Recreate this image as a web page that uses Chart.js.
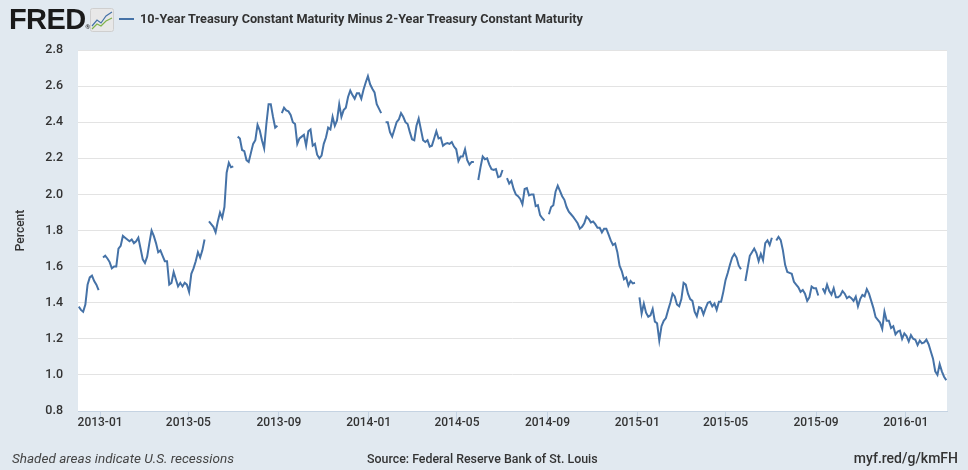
<!DOCTYPE html>
<html><head><meta charset="utf-8">
<script src="https://cdn.jsdelivr.net/npm/chart.js@4.4.0/dist/chart.umd.min.js"></script>
<style>
html,body{margin:0;padding:0;background:#e1e9f0;}
#wrap{position:relative;width:968px;height:470px;overflow:hidden;background:#e1e9f0;}
canvas{position:absolute;left:0;top:0;}
.t{position:absolute;white-space:nowrap;color:#333;}
#logo{left:9px;top:3px;font:bold 29px "Liberation Sans",Arial,sans-serif;color:#1a1a1a;letter-spacing:-0.6px;}
#logo sup{font-size:6px;letter-spacing:0;vertical-align:0;}
#icon{position:absolute;left:90px;top:8px;}
#legline{position:absolute;left:119px;top:18px;width:15px;height:2px;background:#4572a7;}
#legtxt{left:140px;top:11px;font:bold 12.7px Roboto,sans-serif;color:#333;}
#foot1{left:12px;top:450px;font:italic 13.5px Roboto,sans-serif;color:#444;}
#foot2{left:367px;top:451px;font:500 12.4px Roboto,sans-serif;color:#333;}
#foot3{right:10px;top:450px;font:500 14px Roboto,sans-serif;color:#333;}
</style></head>
<body>
<div id="wrap">
<canvas id="c" width="968" height="470"></canvas>
<div class="t" id="logo">FRED<sup>®</sup></div>
<svg id="icon" width="24" height="24" viewBox="0 0 24 24">
 <rect x="0.5" y="0.5" width="23" height="23" rx="2" fill="#e8e8e8" stroke="#cfcfcf"/>
 <polyline points="2,18 7,12 11,15 16,8 22,4" fill="none" stroke="#4572a7" stroke-width="1.2"/>
 <polyline points="2,21 7,16 11,18 16,13 22,10" fill="none" stroke="#7fb24a" stroke-width="1.2"/>
</svg>
<div id="legline"></div>
<div class="t" id="legtxt">10-Year Treasury Constant Maturity Minus 2-Year Treasury Constant Maturity</div>
<div class="t" id="foot1">Shaded areas indicate U.S. recessions</div>
<div class="t" id="foot2">Source: Federal Reserve Bank of St. Louis</div>
<div class="t" id="foot3">myf.red/g/kmFH</div>
</div>
<script>
// ---- data ----
const seriesName = '10-Year Treasury Constant Maturity Minus 2-Year Treasury Constant Maturity';
const startDate = '2012-12-03';   // date of first value
const stepDays = 3;               // spacing between values (days)
const spread = [
 1.378,1.36,1.35,1.39,1.50,1.54,1.55,1.52,1.50,1.47,
 null,1.65,1.66,1.645,1.625,1.59,1.60,1.60,1.70,1.715,
 1.77,1.76,1.75,1.74,1.75,1.73,1.74,1.76,1.70,1.64,
 1.62,1.655,1.73,1.80,1.77,1.73,1.68,1.69,1.66,1.63,
 1.63,1.50,1.51,1.57,1.53,1.49,1.51,1.49,1.51,1.50,
 1.46,1.56,1.59,1.63,1.68,1.65,1.69,1.75,null,1.85,
 1.835,1.82,1.79,1.85,1.90,1.87,1.93,2.12,2.175,2.15,
 2.155,null,2.32,2.31,2.246,2.24,2.19,2.18,2.23,2.28,
 2.30,2.385,2.355,2.30,2.255,2.39,2.50,2.50,2.43,2.37,
 2.38,null,2.45,2.48,2.465,2.46,2.44,2.40,2.39,2.28,
 2.31,2.32,2.33,2.27,2.35,2.36,2.27,2.28,2.22,2.20,
 2.215,2.28,2.315,2.37,2.36,2.43,2.38,2.41,2.50,2.43,
 2.467,2.48,2.54,2.575,2.55,2.53,2.56,2.56,2.53,2.58,
 2.62,2.655,2.61,2.585,2.565,2.50,2.475,2.45,null,2.40,
 2.40,2.345,2.32,2.36,2.40,2.415,2.45,2.43,2.40,2.39,
 2.345,2.305,2.30,2.38,2.42,2.36,2.30,2.29,2.30,2.265,
 2.27,2.31,2.35,2.31,2.315,2.27,2.28,2.285,2.28,2.29,
 2.265,2.25,2.185,2.21,2.21,2.25,2.19,2.165,2.18,2.18,
 null,2.08,2.15,2.21,2.195,2.20,2.165,2.14,2.135,2.14,
 2.095,2.10,2.135,null,2.09,2.06,2.075,2.03,2.00,1.99,
 1.975,1.945,2.03,2.035,1.995,2.00,2.00,1.935,1.94,1.885,
 1.868,1.855,null,1.89,1.93,1.94,2.015,2.048,2.02,1.99,
 1.97,1.93,1.904,1.89,1.875,1.858,1.84,1.81,1.82,1.84,
 1.877,1.865,1.845,1.85,1.835,1.815,1.815,1.79,1.81,1.81,
 1.778,1.745,1.72,1.728,1.68,1.605,1.575,1.53,1.54,1.495,
 1.52,1.507,1.51,null,1.43,1.34,1.395,1.345,1.322,1.33,
 1.365,1.295,1.286,1.19,1.27,1.30,1.315,1.36,1.40,1.45,
 1.435,1.39,1.38,1.42,1.51,1.50,1.45,1.42,1.41,1.35,
 1.325,1.375,1.37,1.335,1.37,1.40,1.405,1.38,1.395,1.36,
 1.405,1.405,1.46,1.525,1.565,1.61,1.65,1.67,1.65,1.605,
 1.585,null,1.52,1.59,1.66,1.68,1.70,1.675,1.63,1.67,
 1.635,1.73,1.745,1.72,1.76,null,1.745,1.765,1.747,1.69,
 1.61,1.57,1.565,1.56,1.516,1.50,1.485,1.46,1.47,1.45,
 1.41,1.43,1.49,1.48,1.48,1.44,null,1.48,1.455,1.50,
 1.465,1.445,1.48,1.43,1.43,1.44,1.465,1.45,1.425,1.434,
 1.425,1.41,1.434,1.38,1.42,1.443,1.435,1.475,1.45,1.41,
 1.37,1.32,1.305,1.29,1.255,1.35,1.30,1.30,1.26,1.27,
 1.225,1.24,1.245,1.20,1.23,1.215,1.185,1.22,1.20,1.195,
 1.165,1.19,1.175,1.18,1.195,1.17,1.13,1.09,1.02,1.00,
 1.06,1.02,0.99,0.97
];
const xTickLabels = ['2013-01','2013-05','2013-09','2014-01','2014-05','2014-09','2015-01','2015-05','2015-09','2016-01'];
const yTickValues = [0.8,1.0,1.2,1.4,1.6,1.8,2.0,2.2,2.4,2.6,2.8];
const xRange = ['2012-12-02','2016-02-26'];

// ---- helpers ----
const DAY = 86400000;
const base = Date.UTC(2013,0,1);
function dayNum(s){const p=s.split('-').map(Number);return (Date.UTC(p[0],p[1]-1,p[2]||1)-base)/DAY;}
const d0 = dayNum(startDate);
const points = spread.map((v,i)=>({x:d0+i*stepDays,y:v}));
const xTickVals = xTickLabels.map(dayNum);

const bgPlugin = {
  id:'plotbg',
  beforeDraw(chart){
    const {ctx,chartArea:a}=chart;
    ctx.save();ctx.fillStyle='#ffffff';ctx.fillRect(a.left,a.top,a.right-a.left,a.bottom-a.top);ctx.restore();
  }
};

new Chart(document.getElementById('c'),{
  type:'line',
  data:{datasets:[{label:seriesName,data:points,borderColor:'#4572a7',borderWidth:2,pointRadius:0,tension:0,spanGaps:false,fill:false}]},
  options:{
    responsive:false,animation:false,devicePixelRatio:1,
    layout:{padding:{top:50,right:21,bottom:29,left:0}},
    plugins:{legend:{display:false},tooltip:{enabled:false}},
    scales:{
      x:{type:'linear',min:dayNum(xRange[0]),max:dayNum(xRange[1]),
        afterBuildTicks(s){s.ticks=xTickVals.map(v=>({value:v}));},
        afterFit(s){s.height=30;},
        ticks:{autoSkip:false,maxRotation:0,padding:-5,color:'#333',font:{family:'Roboto',size:12,weight:'500'},
          callback(v){const k=xTickVals.indexOf(v);return k>=0?xTickLabels[k]:'';}},
        grid:{display:true,drawOnChartArea:false,drawTicks:true,tickLength:10,color:'#c5d3e2',lineWidth:1},
        border:{display:true,color:'#c5d3e2',width:1}
      },
      y:{min:0.8,max:2.8,
        afterBuildTicks(s){s.ticks=yTickValues.map(v=>({value:v}));},
        afterFit(s){s.width=78;},
        ticks:{padding:15,color:'#333',font:{family:'Roboto',size:12.5,weight:'500'},callback(v){return Number(v).toFixed(1);}},
        grid:{color:'#e3e3e3',lineWidth:1,drawTicks:false},
        border:{display:false},
        title:{display:true,text:'Percent',color:'#333',font:{family:'Roboto',size:12,weight:'500'},padding:{top:14,bottom:0}}
      }
    }
  },
  plugins:[bgPlugin]
});
</script>
</body></html>
